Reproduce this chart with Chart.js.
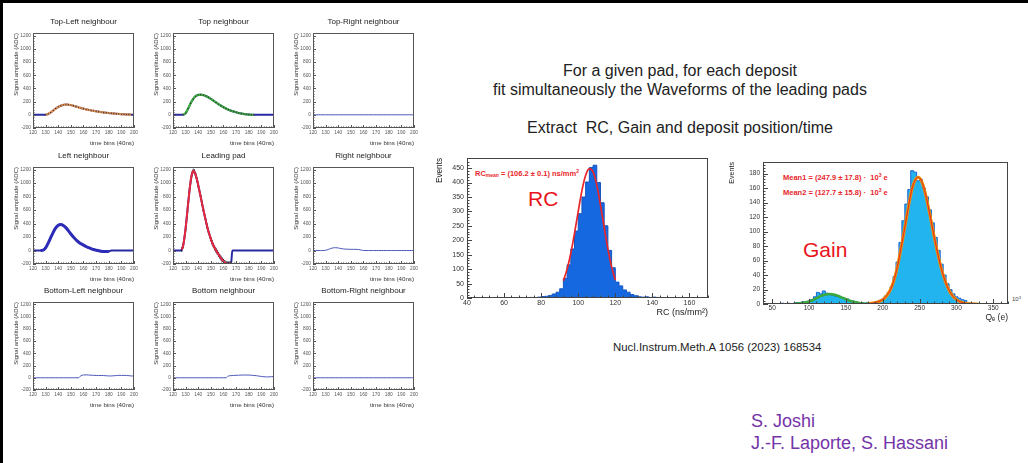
<!DOCTYPE html>
<html>
<head>
<meta charset="utf-8">
<title>Waveform fit - RC and Gain</title>
<script src="https://cdn.jsdelivr.net/npm/chart.js@4.4.1/dist/chart.umd.min.js"></script>
<style>
  html, body { margin: 0; padding: 0; background: #fff; }
  body { width: 1028px; height: 463px; position: relative; overflow: hidden;
         font-family: "Liberation Sans", Arial, Helvetica, sans-serif; }
  canvas { position: absolute; }
  .txt { position: absolute; white-space: pre; line-height: 1; }
  .frame { position: absolute; left: 0; top: 0; width: 1028px; height: 463px; box-sizing: border-box;
           border-top: 3px solid #000; border-left: 3px solid #000; pointer-events: none; z-index: 5; }
  .red { color: #e8262a; font-weight: bold; font-size: 7.5px; }
  .sm { font-size: 5px; }
</style>
</head>
<body>
<div class="frame"></div>

<div class="txt" style="left:480px;width:400px;text-align:center;top:63px;font-size:16px;color:#222">For a given pad, for each deposit</div>
<div class="txt" style="left:480px;width:400px;text-align:center;top:82px;font-size:16px;color:#222">fit simultaneously the Waveforms of the leading pads</div>
<div class="txt" style="left:480px;width:400px;text-align:center;top:120px;font-size:16px;color:#222">Extract  RC, Gain and deposit position/time</div>

<div class="txt red" style="left:475px;top:169px">RC<span class="sm" style="vertical-align:-1px">mean</span> = (106.2 ± 0.1) ns/mm<span class="sm" style="vertical-align:3px">2</span></div>
<div class="txt" style="left:528px;top:188px;font-size:21px;color:#e8141c">RC</div>

<div class="txt red" style="left:783px;top:173px">Mean1 = (247.9 ± 17.8) ·  10<span class="sm" style="vertical-align:3px">3</span> e</div>
<div class="txt red" style="left:783px;top:188px">Mean2 = (127.7 ± 15.8) ·  10<span class="sm" style="vertical-align:3px">3</span> e</div>
<div class="txt" style="left:803px;top:239px;font-size:21px;color:#e8141c">Gain</div>
<div class="txt" style="left:1012px;top:296px;font-size:6px;color:#444">10<span style="font-size:4px;vertical-align:2px">3</span></div>

<div class="txt" style="left:613px;top:342px;font-size:11.4px;color:#222">Nucl.Instrum.Meth.A 1056 (2023) 168534</div>
<div class="txt" style="left:751px;top:412px;font-size:18px;color:#7434a8">S. Joshi</div>
<div class="txt" style="left:751px;top:434px;font-size:18px;color:#7434a8">J.-F. Laporte, S. Hassani</div>

<script>
// ============================
// DATOS: formas de onda (time bins 40ns)
// ============================

const timeBins = [120,122,124,126,128,130,132,134,136,138,140,142,144,146,148,150,152,154,156,158,
                  160,162,164,166,168,170,172,174,176,178,180,182,184,186,188,190,192,194,196,198,200];

const leadBins = [120,121,122,123,124,125,126,127,128,129,130,131,132,133,134,135,136,137,138,139,
                  140,141,142,143,144,145,146,147,148,149,150,151,152,153,154,155,156,157,158,159,
                  160,161,162,163,164,165,166,167,168,169,170,171,172,173,174,175,176,177,178,179,
                  180,181,182,183,184,185,186,187,188,189,190,191,192,193,194,195,196,197,198,199,200];

const panelTitles = ['Top-Left neighbour', 'Top neighbour', 'Top-Right neighbour',
                     'Left neighbour', 'Leading pad', 'Right neighbour',
                     'Bottom-Left neighbour', 'Bottom neighbour', 'Bottom-Right neighbour'];

const topLeftAmp = [0,0,0,0,0,0,12,35,65,95, 120,138,150,155,154,147,137,125,113,102,
                    92,83,75,67,60,53,47,41,36,31, 27,23,19,16,13,10,8,6,4,2, 0];
const topAmp = [0,0,0,0,0,25,95,175,240,283, 302,305,298,285,265,242,215,188,162,138,
                115,95,77,62,49,38,28,20,13,8, 4,1,0,0,0,0,0,0,0,0, 0];
const topRightAmp = [0,0,0,0,0,0,0,0,0,0, 0,0,0,0,0,0,0,0,0,0,
                     0,0,0,0,0,0,0,0,0,0, 0,0,0,0,0,0,0,0,0,0, 0];
const leftAmp = [0,0,0,0,5,40,110,190,270,335, 375,385,372,340,295,245,200,160,127,100,
                 80,60,42,28,15,5,-4,-10,-14,-15, -13,0,0,0,0,0,0,0,0,0, 0];
const leadAmp = [0,0,0,0,0,0,0,15,70,180,
                 330,510,700,880,1030,1135,1180,1170,1120,1050,
                 970,880,790,700,610,525,440,362,290,227,
                 170,120,75,37,5,-25,-55,-85,-112,-138,
                 -160,-177,-190,-197,-199,-197,-192,0,0,0,
                 0,0,0,0,0,0,0,0,0,0, 0,0,0,0,0,0,0,0,0,0, 0,0,0,0,0,0,0,0,0,0, 0];
const rightAmp = [0,0,0,0,0,3,15,30,40,42, 38,30,24,20,19,18,18,17,15,8,
                  0,0,0,0,0,0,0,0,0,0, 0,0,0,0,0,0,0,0,0,0, 0];
const bottomLeftAmp = [0,0,0,0,0,0,0,0,0,0, 0,0,0,0,0,0,0,0,0,35,
                       45,48,45,42,40,38,36,38,36,33, 30,30,33,36,40,38,40,37,34,30, 28];
const bottomAmp = [0,0,0,0,0,0,0,0,0,0, 0,0,0,0,0,0,0,0,0,0,
                   0,0,30,35,38,40,42,44,45,45, 44,42,38,34,28,22,17,14,15,18, 20];
const bottomRightAmp = [0,0,0,0,0,0,0,0,0,0, 0,0,0,0,0,0,0,0,0,0,
                        0,0,0,0,0,0,0,0,0,0, 0,0,0,0,0,0,0,0,0,0, 0];

// rango (en time bins) cubierto por cada ajuste
const topLeftFit = [130, 198];
const topFit = [128, 184];
const leftFit = [126, 180];
const leadFit = [127, 166];

// ============================
// DATOS: histogramas RC y Gain
// ============================

const rcCenters = [59,61,63,65,67,69,71,73,75,77, 79,81,83,85,87,89,91,93,95,97,
                   99,101,103,105,107,109,111,113,115,117, 119,121,123,125,127,129,131,133,135,137,
                   139,141,143,145,147,149];
const rcCounts = [0,0,0,1,0,0,0,1,2,1, 3,5,6,9,14,20,32,68,115,170,
                  232,292,350,402,452,460,400,330,250,165, 105,55,42,28,20,12,8,4,3,4,
                  2,3,2,1,0,0];
const rcFitX = [92,94,96,98,100,102,104,106,108,110,112,114,116,118,120];
const rcFitY = [60,100,155,225,300,372,425,448,437,392,322,245,170,108,62];

const gainCenters = [60,64,68,72,76,80,84,88,92,96, 100,104,108,112,116,120,124,128,132,136,
                     140,144,148,152,156,160,164,168,172,176, 180,184,188,192,196,200,204,208,212,216,
                     220,224,228,232,236,240,244,248,252,256, 260,264,268,272,276,280,284,288,292,296,
                     300,304,308,312,316,320,324,328,332,336];
const gainCounts = [0,1,0,1,0,1,2,1,3,2, 4,6,10,16,14,18,15,13,12,11,
                    10,9,8,7,5,4,3,2,2,1, 2,1,2,3,5,7,11,16,24,38,
                    58,85,115,138,158,184,182,170,172,160, 148,130,112,92,74,55,40,28,20,14,
                    10,8,6,5,2,1,1,0,0,0];
const mean1FitX = [180,190,200,205,210,215,220,225,230,235,240,244,248,252,256,260,265,270,275,280,285,290,295,300,310,320,330];
const mean1FitY = [0.5,2,6,11,19,32,52,78,106,135,160,171,175,171,160,143,118,92,68,47,31,19,11,6,1.5,0.3,0];
const mean2FitX = [80,90,100,105,110,115,120,125,128,131,135,140,145,150,155,160,170,180,185];
const mean2FitY = [0.5,1.5,3.5,5.5,8,10.5,12.5,13.5,13.7,13.5,12.8,11,8.8,6.6,4.6,3,1,0.3,0.1];

// ============================
// UTILIDADES
// ============================

Chart.defaults.font.family = '"Liberation Sans", Arial, Helvetica, sans-serif';

const isMajor = (v, step) => Math.abs(v / step - Math.round(v / step)) < 1e-6;
const toPoints = (xs, ys) => xs.map((x, i) => ({ x, y: ys[i] }));

// marco y ticks hacia adentro (estilo ROOT)
const rootAxes = {
    id: 'rootAxes',
    afterDatasetsDraw(chart, args, o) {
        const { ctx, chartArea: a } = chart;
        ctx.save();
        ctx.strokeStyle = o.color;
        ctx.lineWidth = 1;
        ['x', 'y'].forEach(id => {
            const s = chart.scales[id];
            s.ticks.forEach(t => {
                const len = isMajor(t.value, o[id + 'Major']) ? o.major : o.minor;
                const p = Math.round(s.getPixelForValue(t.value)) + 0.5;
                ctx.beginPath();
                if (id === 'x') { ctx.moveTo(p, a.bottom); ctx.lineTo(p, a.bottom - len); }
                else { ctx.moveTo(a.left, p); ctx.lineTo(a.left + len, p); }
                ctx.stroke();
            });
        });
        ctx.strokeRect(Math.round(a.left) + 0.5, Math.round(a.top) + 0.5,
                       Math.round(a.width) - 1, Math.round(a.height) - 1);
        ctx.restore();
    }
};

function addCanvas(left, top, w, h) {
    const cv = document.createElement('canvas');
    cv.width = w;
    cv.height = h;
    cv.style.cssText = `left:${left}px;top:${top}px;width:${w}px;height:${h}px`;
    document.body.appendChild(cv);
    return cv;
}

// ============================
// PANELES DE FORMA DE ONDA
// ============================

const panelBoxes = [
    { left: 33,  top: 33,  right: 137, bottom: 128 },
    { left: 173, top: 33,  right: 277, bottom: 128 },
    { left: 313, top: 33,  right: 418, bottom: 128 },
    { left: 33,  top: 167, right: 137, bottom: 264 },
    { left: 173, top: 167, right: 277, bottom: 264 },
    { left: 313, top: 167, right: 418, bottom: 264 },
    { left: 33,  top: 302, right: 137, bottom: 390 },
    { left: 173, top: 302, right: 277, bottom: 390 },
    { left: 313, top: 302, right: 418, bottom: 390 }
];

const NAVY = '#2a2aa2';
const THIN = '#4c58b8';

const panels = [
    { bins: timeBins, amp: topLeftAmp,     fit: topLeftFit, fitColor: '#eb9a52', fitWidth: 2.2, marks: 'dot' },
    { bins: timeBins, amp: topAmp,         fit: topFit,     fitColor: '#3cb43c', fitWidth: 2.2, marks: 'dot' },
    { bins: timeBins, amp: topRightAmp },
    { bins: timeBins, amp: leftAmp,        fit: leftFit,    fitColor: '#2c2cb6', fitWidth: 3 },
    { bins: leadBins, amp: leadAmp,        fit: leadFit,    fitColor: '#e8283c', fitWidth: 2, marks: 'bar' },
    { bins: timeBins, amp: rightAmp },
    { bins: timeBins, amp: bottomLeftAmp },
    { bins: timeBins, amp: bottomAmp },
    { bins: timeBins, amp: bottomRightAmp }
];

panels.forEach((p, i) => {
    const box = panelBoxes[i];
    const W = 140;
    const cLeft = box.left - 33;
    const cTop = box.top - 18;
    const H = (box.bottom - box.top) + 18 + 22;
    const cv = addCanvas(cLeft, cTop, W, H);

    const pts = toPoints(p.bins, p.amp);
    const inFit = d => p.fit && d.x >= p.fit[0] && d.x <= p.fit[1];
    const datasets = [];
    // los puntos de datos quedan encima del ajuste (dot) o debajo (bar)
    if (p.marks === 'dot') {
        datasets.push({ data: pts.filter(inFit), showLine: false,
                        pointRadius: 0.7, pointBorderWidth: 0, backgroundColor: '#3a3040' });
    }
    if (p.fit) {
        datasets.push({ data: pts.filter(inFit), borderColor: p.fitColor, borderWidth: p.fitWidth,
                        pointRadius: 0, cubicInterpolationMode: 'monotone' });
    }
    if (p.marks === 'bar') {
        datasets.push({ data: pts.filter(inFit), showLine: false,
                        pointStyle: 'line', rotation: 90, pointRadius: 2.4, borderColor: '#1c1c40', borderWidth: 1 });
    }
    datasets.push({ data: pts, borderColor: p.fit ? NAVY : THIN, borderWidth: p.fit ? 2 : 1,
                    pointRadius: 0, cubicInterpolationMode: 'monotone' });

    new Chart(cv, {
        type: 'line',
        data: { datasets },
        plugins: [rootAxes],
        options: {
            responsive: false,
            animation: false,
            events: [],
            layout: { padding: { left: 0, top: 0, bottom: 0, right: W - (box.right - cLeft) } },
            plugins: {
                legend: { display: false },
                tooltip: { enabled: false },
                title: { display: true, text: panelTitles[i], fullSize: false, color: '#222',
                         font: { size: 8, weight: 'normal', lineHeight: 1 }, padding: { top: 3, bottom: 7 } },
                rootAxes: { color: '#555', xMajor: 10, yMajor: 200, major: 3, minor: 1.5 }
            },
            scales: {
                x: {
                    type: 'linear', min: 120, max: 200,
                    afterFit: s => { s.height = 22; },
                    grid: { display: false, drawTicks: false },
                    border: { display: false },
                    ticks: { stepSize: 2, autoSkip: false, maxRotation: 0, padding: 2, color: '#555',
                             font: { size: 4.8 }, callback: v => isMajor(v, 10) ? v : '' },
                    title: { display: true, text: 'time bins (40ns)', align: 'end', color: '#333',
                             font: { size: 6.2, lineHeight: 1.2 }, padding: { top: 0, bottom: 3.3 } }
                },
                y: {
                    min: -200, max: 1240,
                    afterFit: s => { s.width = 33; },
                    grid: { display: false, drawTicks: false },
                    border: { display: false },
                    ticks: { stepSize: 40, autoSkip: false, padding: 2, color: '#555',
                             font: { size: 4.8 }, callback: v => isMajor(v, 200) ? v : '' },
                    title: { display: true, text: 'Signal amplitude (ADC)', align: 'end', color: '#333',
                             font: { size: 6, lineHeight: 1.2 }, padding: { top: 12.4, bottom: 0 } }
                }
            }
        }
    });
});

// ============================
// HISTOGRAMA RC
// ============================

const rcCanvas = addCanvas(431, 150, 280, 170);
new Chart(rcCanvas, {
    type: 'line',
    data: {
        datasets: [
            { data: toPoints(rcFitX, rcFitY), borderColor: '#e8262a', borderWidth: 1.7,
              pointRadius: 0, cubicInterpolationMode: 'monotone' },
            { data: toPoints(rcCenters, rcCounts), stepped: 'middle', fill: 'origin',
              backgroundColor: '#1668e0', borderColor: '#1455c2', borderWidth: 1, pointRadius: 0 }
        ]
    },
    plugins: [rootAxes],
    options: {
        responsive: false,
        animation: false,
        events: [],
        layout: { padding: { left: 0, top: 8, right: 3, bottom: 0 } },
        plugins: {
            legend: { display: false },
            tooltip: { enabled: false },
            rootAxes: { color: '#444', xMajor: 20, yMajor: 50, major: 5, minor: 2.5 }
        },
        scales: {
            x: {
                type: 'linear', min: 40, max: 170,
                afterFit: s => { s.height = 22; },
                grid: { display: false, drawTicks: false },
                border: { display: false },
                ticks: { stepSize: 4, autoSkip: false, maxRotation: 0, padding: 1, color: '#333',
                         font: { size: 7 }, callback: v => isMajor(v, 20) ? v : '' },
                title: { display: true, text: 'RC (ns/mm²)', align: 'end', color: '#222',
                         font: { size: 9, lineHeight: 1.2 }, padding: { top: 0, bottom: 1.6 } }
            },
            y: {
                min: 0, max: 485,
                afterFit: s => { s.width = 36; },
                grid: { display: false, drawTicks: false },
                border: { display: false },
                ticks: { stepSize: 10, autoSkip: false, padding: 3, color: '#333',
                         font: { size: 7 }, callback: v => isMajor(v, 50) ? v : '' },
                title: { display: true, text: 'Events', align: 'end', color: '#222',
                         font: { size: 8.2, lineHeight: 1.2 }, padding: { top: 4.1, bottom: 0 } }
            }
        }
    }
});

// ============================
// HISTOGRAMA GAIN
// ============================

const gainCanvas = addCanvas(724, 150, 304, 175);
new Chart(gainCanvas, {
    type: 'line',
    data: {
        datasets: [
            { data: toPoints(mean1FitX, mean1FitY), borderColor: '#e0242a', borderWidth: 1,
              pointRadius: 0, cubicInterpolationMode: 'monotone' },
            { data: toPoints(mean1FitX, mean1FitY), borderColor: '#f39200', borderWidth: 3,
              pointRadius: 0, cubicInterpolationMode: 'monotone' },
            { data: toPoints(mean2FitX, mean2FitY), borderColor: '#3aa83a', borderWidth: 2.5,
              pointRadius: 0, cubicInterpolationMode: 'monotone' },
            { data: toPoints(gainCenters, gainCounts), stepped: 'middle', fill: 'origin',
              backgroundColor: '#22b4ee', borderColor: '#1a62d2', borderWidth: 1, pointRadius: 0 }
        ]
    },
    plugins: [rootAxes],
    options: {
        responsive: false,
        animation: false,
        events: [],
        layout: { padding: { left: 0, top: 12, right: 20, bottom: 0 } },
        plugins: {
            legend: { display: false },
            tooltip: { enabled: false },
            rootAxes: { color: '#444', xMajor: 50, yMajor: 20, major: 5, minor: 2.5 }
        },
        scales: {
            x: {
                type: 'linear', min: 37.5, max: 370,
                afterFit: s => { s.height = 21; },
                grid: { display: false, drawTicks: false },
                border: { display: false },
                ticks: { stepSize: 10, autoSkip: false, maxRotation: 0, padding: 0, color: '#333',
                         font: { size: 6.5 }, callback: v => isMajor(v, 50) ? v : '' },
                title: { display: true, text: 'Qₑ (e)', align: 'end', color: '#222',
                         font: { size: 8.5, lineHeight: 1.2 }, padding: { top: 0, bottom: 1.9 } }
            },
            y: {
                min: 0, max: 196,
                afterFit: s => { s.width = 39; },
                grid: { display: false, drawTicks: false },
                border: { display: false },
                ticks: { stepSize: 4, autoSkip: false, padding: 3, color: '#333',
                         font: { size: 6.5 }, callback: v => isMajor(v, 20) ? v : '' },
                title: { display: true, text: 'Events', align: 'end', color: '#222',
                         font: { size: 7.1, lineHeight: 1.2 }, padding: { top: 3.4, bottom: 0 } }
            }
        }
    }
});
</script>
</body>
</html>
